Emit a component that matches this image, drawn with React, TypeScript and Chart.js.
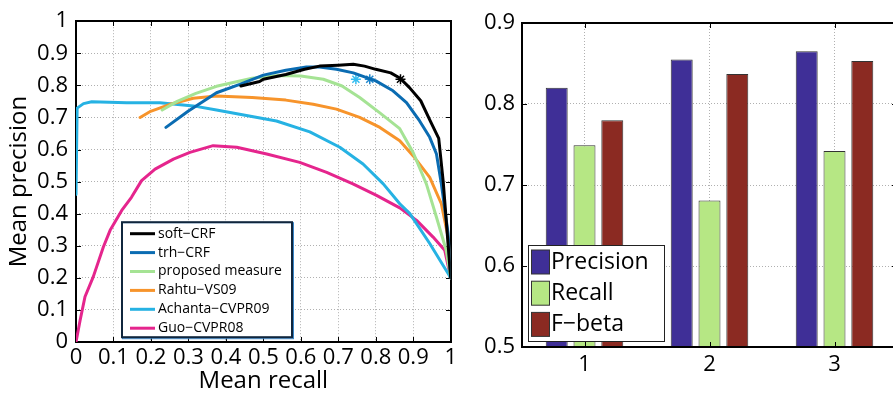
import React, { useEffect, useRef } from 'react';
import { Chart, registerables } from 'chart.js';

Chart.register(...registerables);

const FONT = '"Open Sans", "DejaVu Sans", sans-serif';
Chart.defaults.font.family = FONT;
Chart.defaults.color = '#000';

// ---------- Left chart: precision / recall curves ----------
const SERIES_LABELS = ['soft−CRF', 'trh−CRF', 'proposed measure', 'Rahtu−VS09', 'Achanta−CVPR09', 'Guo−CVPR08'];
const SERIES_COLORS = ['#000000', '#0b6cb2', '#a5e394', '#f7942b', '#26b2e3', '#e5258d'];

const SOFT_X = [0.44, 0.49, 0.5, 0.56, 0.61, 0.65, 0.7, 0.74, 0.77, 0.8, 0.84, 0.865, 0.89, 0.92, 0.945, 0.968, 0.98, 1.0];
const SOFT_Y = [0.798, 0.812, 0.819, 0.834, 0.85, 0.86, 0.863, 0.866, 0.86, 0.85, 0.839, 0.822, 0.793, 0.752, 0.69, 0.635, 0.5, 0.2];

const TRH_X = [0.24, 0.3, 0.375, 0.437, 0.5, 0.56, 0.615, 0.65, 0.695, 0.74, 0.8, 0.846, 0.882, 0.917, 0.944, 0.962, 0.975, 0.993, 1.0];
const TRH_Y = [0.669, 0.72, 0.777, 0.803, 0.832, 0.847, 0.857, 0.857, 0.85, 0.839, 0.814, 0.783, 0.746, 0.689, 0.638, 0.586, 0.493, 0.338, 0.2];

const PROP_X = [0.23, 0.27, 0.32, 0.375, 0.47, 0.54, 0.6, 0.66, 0.71, 0.757, 0.81, 0.864, 0.9, 0.935, 0.962, 0.988, 1.0];
const PROP_Y = [0.723, 0.75, 0.775, 0.797, 0.822, 0.831, 0.829, 0.819, 0.798, 0.762, 0.715, 0.665, 0.59, 0.493, 0.389, 0.286, 0.2];

const RAHTU_X = [0.171, 0.197, 0.251, 0.313, 0.375, 0.47, 0.56, 0.633, 0.695, 0.757, 0.811, 0.864, 0.9, 0.944, 0.975, 0.993, 1.0];
const RAHTU_Y = [0.7, 0.718, 0.741, 0.76, 0.767, 0.762, 0.754, 0.741, 0.726, 0.7, 0.669, 0.627, 0.58, 0.513, 0.431, 0.327, 0.2];

const ACH_X = [0, 0.003, 0.02, 0.042, 0.135, 0.224, 0.313, 0.375, 0.473, 0.535, 0.624, 0.704, 0.766, 0.82, 0.864, 0.891, 0.944, 1.0];
const ACH_Y = [0.46, 0.729, 0.743, 0.749, 0.746, 0.746, 0.736, 0.723, 0.702, 0.689, 0.655, 0.607, 0.555, 0.493, 0.431, 0.4, 0.307, 0.2];

const GUO_X = [0, 0.011, 0.024, 0.046, 0.073, 0.091, 0.122, 0.148, 0.175, 0.211, 0.26, 0.304, 0.366, 0.429, 0.509, 0.597, 0.669, 0.739, 0.802, 0.864, 0.909, 0.953, 0.984, 1.0];
const GUO_Y = [0, 0.068, 0.141, 0.203, 0.296, 0.348, 0.41, 0.451, 0.503, 0.539, 0.57, 0.591, 0.612, 0.607, 0.586, 0.56, 0.529, 0.493, 0.457, 0.418, 0.379, 0.327, 0.286, 0.2];

// asterisk markers (soft-CRF, trh-CRF, Achanta)
const MARK_X = [0.866, 0.784, 0.747];
const MARK_Y = [0.819, 0.819, 0.819];
const MARK_COLORS = ['#000000', '#1f86cc', '#35bdf0'];

const PR_TICKS = [0, 0.1, 0.2, 0.3, 0.4, 0.5, 0.6, 0.7, 0.8, 0.9, 1];
const PR_TICK_LABELS = ['0', '0.1', '0.2', '0.3', '0.4', '0.5', '0.6', '0.7', '0.8', '0.9', '1'];

// ---------- Right chart: bars ----------
const BAR_CATEGORIES = ['1', '2', '3'];
const BAR_LABELS = ['Precision', 'Recall', 'F−beta'];
const BAR_COLORS = ['#3f2f97', '#b6e784', '#8b2a22'];
const PRECISION = [0.82, 0.855, 0.865];
const RECALL = [0.749, 0.681, 0.742];
const FBETA = [0.78, 0.837, 0.853];
const BAR_Y_TICKS = [0.5, 0.6, 0.7, 0.8, 0.9];
const BAR_Y_TICK_LABELS = ['0.5', '0.6', '0.7', '0.8', '0.9'];

const TICK_FONT = { size: 22, family: FONT };
const GRID = { color: '#b0b0b0', lineWidth: 1, drawTicks: false };
const BORDER = { display: false, dash: [1, 2] };

function toPoints(xs: number[], ys: number[]) {
  return xs.map((x, i) => ({ x, y: ys[i] }));
}

function drawMatlabBox(chart: any) {
  const ctx: CanvasRenderingContext2D = chart.ctx;
  const a = chart.chartArea;
  const L = Math.round(a.left);
  const T = Math.round(a.top);
  const R = Math.round(a.right);
  const B = Math.round(a.bottom);
  const TL = 5;
  ctx.save();
  ctx.setLineDash([]);
  ctx.globalAlpha = 1;
  ctx.fillStyle = '#000000';
  ctx.fillRect(L - 1, T - 1, R - L + 2, 2);
  ctx.fillRect(L - 1, B - 1, R - L + 2, 2);
  ctx.fillRect(L - 1, T - 1, 2, B - T + 2);
  ctx.fillRect(R - 1, T - 1, 2, B - T + 2);
  const xs = chart.scales.x;
  for (let i = 0; i < xs.ticks.length; i++) {
    const px = Math.round(xs.getPixelForTick(i));
    ctx.fillRect(px, B - TL, 1, TL);
    ctx.fillRect(px, T, 1, TL);
  }
  const ys = chart.scales.y;
  for (let i = 0; i < ys.ticks.length; i++) {
    const py = Math.round(ys.getPixelForTick(i));
    ctx.fillRect(L, py, TL, 1);
    ctx.fillRect(R - TL, py, TL, 1);
  }
  ctx.restore();
}

const prDecor = {
  id: 'prDecor',
  beforeDatasetsDraw(chart: any) {
    drawMatlabBox(chart);
  },
  afterDatasetsDraw(chart: any) {
    const { ctx, chartArea: a } = chart;
    const left = a.left + 46;
    const top = a.top + 201;
    const w = 171;
    const h = 116;
    ctx.save();
    ctx.setLineDash([]);
    ctx.fillStyle = '#fff';
    ctx.fillRect(left, top, w, h);
    ctx.strokeStyle = '#3a86c8';
    ctx.lineWidth = 1;
    ctx.strokeRect(left + 0.5, top + 0.5, w, h);
    ctx.strokeStyle = '#10263d';
    ctx.lineWidth = 2;
    ctx.strokeRect(left, top, w - 1, h - 1);
    ctx.font = `14px ${FONT}`;
    ctx.textBaseline = 'middle';
    ctx.textAlign = 'left';
    SERIES_LABELS.forEach((lab, i) => {
      const y = top + 11.5 + i * 18.9;
      ctx.strokeStyle = chart.data.datasets[i].borderColor;
      ctx.lineWidth = 3;
      ctx.beginPath();
      ctx.moveTo(left + 8, y);
      ctx.lineTo(left + 33, y);
      ctx.stroke();
      ctx.fillStyle = '#000';
      ctx.fillText(lab, left + 36, y);
    });
    ctx.restore();
  },
};

const barDecor = {
  id: 'barDecor',
  afterDatasetsDraw(chart: any) {
    drawMatlabBox(chart);
    const { ctx, chartArea: a } = chart;
    const w = 136;
    const h = 96;
    const left = a.left + 6;
    const top = a.bottom - 6 - h;
    ctx.save();
    ctx.setLineDash([]);
    ctx.fillStyle = '#fff';
    ctx.fillRect(left, top, w, h);
    ctx.strokeStyle = '#222';
    ctx.lineWidth = 1;
    ctx.strokeRect(left + 0.5, top + 0.5, w, h);
    ctx.font = `23px ${FONT}`;
    ctx.textBaseline = 'middle';
    ctx.textAlign = 'left';
    BAR_LABELS.forEach((lab, i) => {
      const sy = top + 5 + i * 31.2;
      ctx.fillStyle = chart.data.datasets[i].backgroundColor;
      ctx.fillRect(left + 3.5, sy, 18, 24);
      ctx.strokeStyle = '#333';
      ctx.lineWidth = 1;
      ctx.strokeRect(left + 3.5, sy, 18, 24);
      ctx.fillStyle = '#000';
      ctx.fillText(lab, left + 23, sy + 12);
    });
    ctx.restore();
  },
};

function PRChart() {
  const ref = useRef<HTMLCanvasElement>(null);
  useEffect(() => {
    const xsList = [SOFT_X, TRH_X, PROP_X, RAHTU_X, ACH_X, GUO_X];
    const ysList = [SOFT_Y, TRH_Y, PROP_Y, RAHTU_Y, ACH_Y, GUO_Y];
    const lineSets: any[] = SERIES_LABELS.map((label, i) => ({
      label,
      data: toPoints(xsList[i], ysList[i]),
      borderColor: SERIES_COLORS[i],
      backgroundColor: SERIES_COLORS[i],
      borderWidth: 3,
      pointRadius: 0,
      tension: 0,
      fill: false,
      borderJoinStyle: 'round',
      borderCapStyle: 'round',
    }));
    const markSets: any[] = MARK_X.map((x, i) => ({
      label: 'marker' + i,
      data: [{ x, y: MARK_Y[i] }],
      showLine: false,
      pointStyle: 'star',
      pointRadius: 5,
      borderWidth: 1.5,
      borderColor: MARK_COLORS[i],
      backgroundColor: MARK_COLORS[i],
    }));
    const chart = new Chart(ref.current!, {
      type: 'line',
      data: { datasets: [...lineSets, ...markSets] },
      options: {
        responsive: false,
        animation: false,
        devicePixelRatio: 1,
        events: [],
        layout: { padding: { left: 0, top: 20, right: 9, bottom: 0 } },
        plugins: { legend: { display: false }, tooltip: { enabled: false } },
        scales: {
          x: {
            type: 'linear',
            min: 0,
            max: 1,
            afterBuildTicks: (s: any) => {
              s.ticks = PR_TICKS.map((v) => ({ value: v }));
            },
            afterFit: (s: any) => {
              s.height = 51;
            },
            ticks: {
              autoSkip: false,
              maxRotation: 0,
              minRotation: 0,
              padding: 3,
              font: TICK_FONT,
              color: '#000',
              callback: (_v: any, i: number) => PR_TICK_LABELS[i],
            },
            grid: GRID,
            border: BORDER,
            title: {
              display: true,
              text: 'Mean recall',
              color: '#000',
              font: { size: 24, family: FONT, lineHeight: 1 },
              padding: { top: 0, bottom: 0 },
            },
          },
          y: {
            type: 'linear',
            min: 0,
            max: 1,
            afterBuildTicks: (s: any) => {
              s.ticks = PR_TICKS.map((v) => ({ value: v }));
            },
            afterFit: (s: any) => {
              s.width = 76;
            },
            ticks: {
              autoSkip: false,
              padding: 8,
              font: TICK_FONT,
              color: '#000',
              callback: (_v: any, i: number) => PR_TICK_LABELS[i],
            },
            grid: GRID,
            border: BORDER,
            title: {
              display: true,
              text: 'Mean precision',
              color: '#000',
              font: { size: 24, family: FONT, lineHeight: 1 },
              padding: { top: 7, bottom: 0 },
            },
          },
        },
      } as any,
      plugins: [prDecor],
    });
    return () => chart.destroy();
  }, []);
  return (
    <canvas
      ref={ref}
      width={460}
      height={393}
      style={{ position: 'absolute', left: 0, top: 0, width: 460, height: 393 }}
    />
  );
}

function BarChart() {
  const ref = useRef<HTMLCanvasElement>(null);
  useEffect(() => {
    const values = [PRECISION, RECALL, FBETA];
    const chart = new Chart(ref.current!, {
      type: 'bar',
      data: {
        labels: BAR_CATEGORIES,
        datasets: BAR_LABELS.map((label, i) => ({
          label,
          data: values[i],
          backgroundColor: BAR_COLORS[i],
          borderColor: '#333',
          borderWidth: 1,
          categoryPercentage: 0.667,
          barPercentage: 0.79,
          clip: 0,
        })) as any,
      },
      options: {
        responsive: false,
        animation: false,
        devicePixelRatio: 1,
        events: [],
        layout: { padding: { left: 0, top: 23, right: 3, bottom: 0 } },
        plugins: { legend: { display: false }, tooltip: { enabled: false } },
        scales: {
          x: {
            type: 'category',
            afterFit: (s: any) => {
              s.height = 46;
            },
            ticks: { padding: 5, font: TICK_FONT, color: '#000', maxRotation: 0 },
            grid: { ...GRID, offset: false },
            border: BORDER,
          },
          y: {
            type: 'linear',
            min: 0.5,
            max: 0.9,
            afterBuildTicks: (s: any) => {
              s.ticks = BAR_Y_TICKS.map((v) => ({ value: v }));
            },
            afterFit: (s: any) => {
              s.width = 62;
            },
            ticks: {
              autoSkip: false,
              padding: 7,
              font: TICK_FONT,
              color: '#000',
              callback: (_v: any, i: number) => BAR_Y_TICK_LABELS[i],
            },
            grid: GRID,
            border: BORDER,
          },
        },
      } as any,
      plugins: [barDecor],
    });
    return () => chart.destroy();
  }, []);
  return (
    <canvas
      ref={ref}
      width={440}
      height={393}
      style={{ position: 'absolute', left: 460, top: 0, width: 440, height: 393 }}
    />
  );
}

export default function App() {
  return (
    <div
      style={{
        position: 'fixed',
        left: 0,
        top: 0,
        width: 893,
        height: 393,
        overflow: 'hidden',
        background: '#fff',
      }}
    >
      <PRChart />
      <BarChart />
    </div>
  );
}
